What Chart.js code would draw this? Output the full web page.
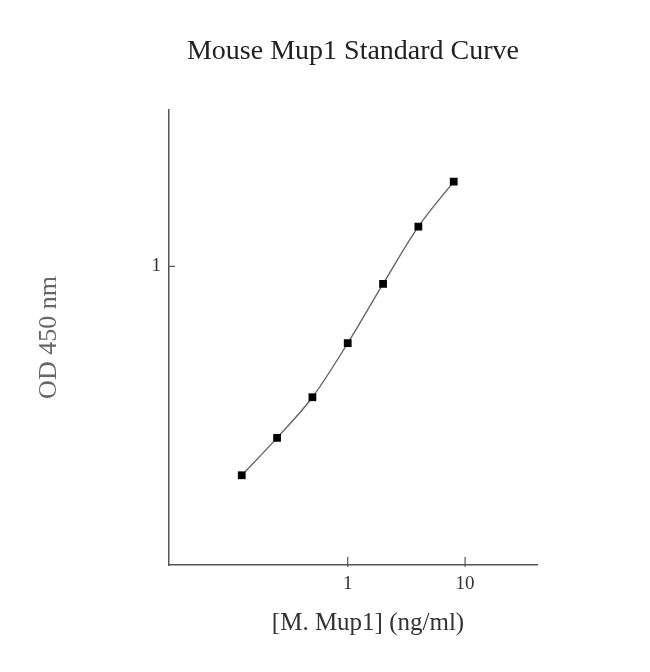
<!DOCTYPE html>
<html lang="en">
<head>
    <meta charset="UTF-8" />
    <title>Mouse Mup1 Standard Curve</title>
    <style>
        body {
            margin: 0;
            padding: 0;
            background-color: #ffffff;
        }

        #wrap {
            width: 650px;
            height: 672px;
        }
    </style>
    <script src="https://cdn.jsdelivr.net/npm/chart.js"></script>
</head>
<body>
    <div id="wrap">
        <canvas id="curveChart" width="650" height="672"></canvas>
    </div>

    <script>
    // standard curve data
    const concentrations = [0.125, 0.25, 0.5, 1, 2, 4, 8]; // ng/ml
    const odValues = [0.123, 0.179, 0.269, 0.463, 0.839, 1.49, 2.34];
    const xTicks = [1, 10];
    const yTicks = [1];
    const chartTitle = 'Mouse Mup1 Standard Curve';
    const xTitle = '[M. Mup1] (ng/ml)';

    const serif = '"Liberation Serif", "DejaVu Serif", serif';

    // titles and inward tick marks
    const decorations = {
      id: 'decorations',
      afterDraw(chart) {
        const ctx = chart.ctx;
        const area = chart.chartArea;
        const xs = chart.scales.x;
        const ys = chart.scales.y;
        ctx.save();
        ctx.textAlign = 'center';
        ctx.textBaseline = 'middle';
        ctx.fillStyle = '#222';
        ctx.font = '28px ' + serif;
        ctx.fillText(chartTitle, (area.left + area.right) / 2, 52);

        // x axis title sits a little right of the plot centre in the original
        ctx.fillStyle = '#333';
        ctx.font = '25px ' + serif;
        ctx.fillText(xTitle, (area.left + area.right) / 2 + 15, 623);

        ctx.strokeStyle = '#555';
        ctx.lineWidth = 1.2;
        xTicks.forEach(v => {
          const px = xs.getPixelForValue(v);
          ctx.beginPath();
          ctx.moveTo(px, xs.top + 2);
          ctx.lineTo(px, xs.top - 8);
          ctx.stroke();
        });
        yTicks.forEach(v => {
          const py = ys.getPixelForValue(v);
          ctx.beginPath();
          ctx.moveTo(ys.right - 1, py);
          ctx.lineTo(ys.right + 6, py);
          ctx.stroke();
        });
        ctx.restore();
      }
    };

    new Chart(document.getElementById('curveChart'), {
      type: 'line',
      data: {
        datasets: [{
          data: concentrations.map((c, i) => ({ x: c, y: odValues[i] })),
          borderColor: '#666',
          borderWidth: 1.4,
          cubicInterpolationMode: 'monotone',
          pointStyle: 'rect',
          pointRadius: 5.5,
          pointBackgroundColor: '#000',
          pointBorderColor: '#000',
          pointBorderWidth: 0
        }]
      },
      options: {
        responsive: false,
        animation: false,
        layout: { padding: { left: 30, right: 113, top: 110, bottom: 29 } },
        plugins: {
          legend: { display: false },
          tooltip: { enabled: false },
          title: { display: false }
        },
        scales: {
          x: {
            type: 'logarithmic',
            min: 0.03,
            max: 41,
            afterBuildTicks: s => { s.ticks = xTicks.map(v => ({ value: v })); },
            afterFit: s => { s.height = 78; },
            grid: { display: false },
            border: { color: '#555', width: 1.5 },
            ticks: {
              color: '#333',
              font: { family: serif, size: 19 },
              padding: 0,
              callback: v => String(v)
            }
          },
          y: {
            type: 'logarithmic',
            min: 0.05,
            max: 4.8,
            afterBuildTicks: s => { s.ticks = yTicks.map(v => ({ value: v })); },
            afterFit: s => { s.width = 139; },
            grid: { display: false },
            border: { color: '#555', width: 1.5 },
            ticks: {
              color: '#333',
              font: { family: serif, size: 19 },
              padding: 0,
              callback: v => String(v)
            },
            title: {
              display: true,
              text: 'OD 450 nm',
              color: '#666',
              font: { family: serif, size: 26 },
              padding: { bottom: 0 }
            }
          }
        }
      },
      plugins: [decorations]
    });
    </script>
</body>
</html>
